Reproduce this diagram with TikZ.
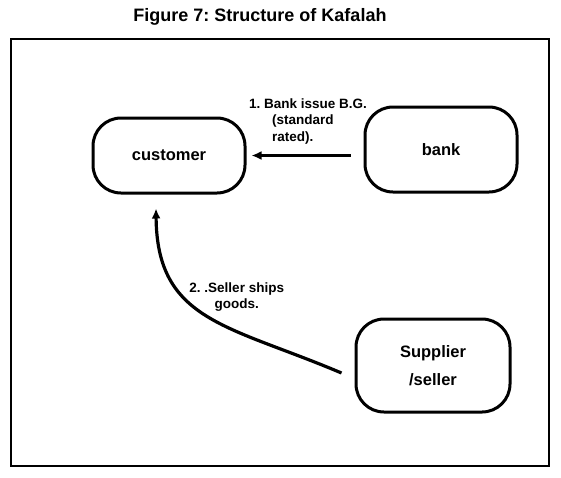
\documentclass[tikz,border=0pt]{standalone}
\usepackage{fontspec}
\setmainfont{Liberation Sans}
\usetikzlibrary{arrows.meta}
\frenchspacing

\begin{document}
\begin{tikzpicture}[x = 1pt, y = -1pt, >={Latex[length = 10pt, width = 9pt]}]
    \useasboundingbox (0, 0) rectangle (561, 477);

    \tikzstyle{party} = [draw, line width = 3pt, rounded corners = 28pt, align = center, font = \fontsize{16.5}{19}\selectfont\bfseries]
    \tikzstyle{note} = [inner sep = 0pt, font = \fontsize{13.5}{16.5}\selectfont\bfseries]

    \node[font = \fontsize{18}{21}\selectfont\bfseries] (title) at (260, 17) {Figure 7: Structure of Kafalah};
    \draw[line width = 2.5pt] (11, 39) rectangle (549, 466);

    \node[party, minimum width = 152pt, minimum height = 75pt] (customer) at (169, 155.5) {customer};
    \node[party, minimum width = 152pt, minimum height = 85pt] (bank) at (441, 149.5) {bank};
    \node[party, minimum width = 154pt, minimum height = 93pt] (supplier) at (433, 365.5) {Supplier\\[9pt]/seller};

    \draw[->, line width = 3.2pt, shorten <= 13pt, shorten >= 5pt] (bank.west |- customer.east) -- (customer.east)
        node[midway, above = 10pt, xshift = 3pt, note, align = left] {1. Bank issue B.G.\\\hspace*{23pt}(standard\\\hspace*{23pt}rated).};
    \draw[->, line width = 3.2pt] ([xshift = -13pt, yshift = -7.5pt]supplier.west)
        .. controls +(-113, -48) and +(1, 113) .. ([xshift = -13pt, yshift = -14pt]customer.south)
        node[midway, xshift = 30pt, yshift = 18pt, note, align = center] {2. .Seller ships\\goods.};
\end{tikzpicture}
\end{document}
